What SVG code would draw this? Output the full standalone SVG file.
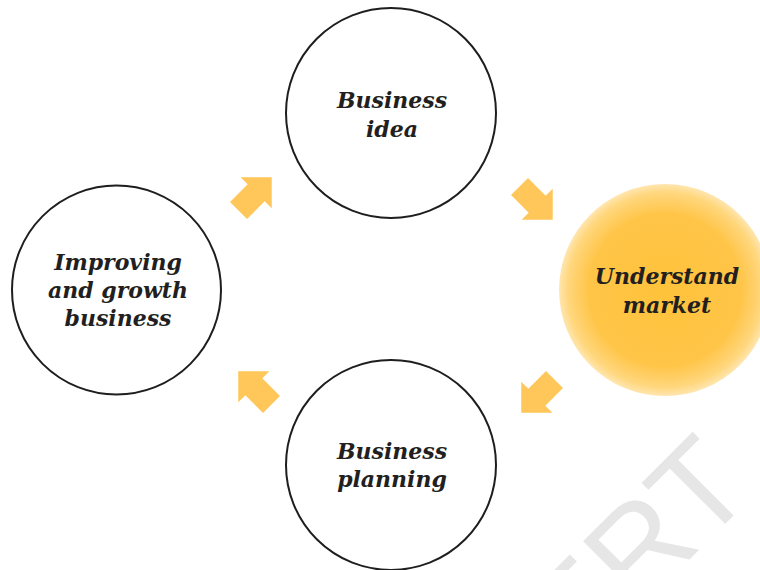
<svg xmlns="http://www.w3.org/2000/svg" width="760" height="570" viewBox="0 0 760 570">
  <defs>
    <radialGradient id="gold" cx="50%" cy="50%" r="50%">
      <stop offset="0" stop-color="#FFC23A"/>
      <stop offset="0.72" stop-color="#FFC548"/>
      <stop offset="0.92" stop-color="#FFD77E"/>
      <stop offset="1" stop-color="#FFE6B0"/>
    </radialGradient>
    <path id="arrow" d="M-12,-12 H13 V-22 L35,0 L13,22 V12 H-12 Z"/>
  </defs>
  <style>
    .ring { fill: #ffffff; stroke: #1e1e1e; stroke-width: 2; }
    .lbl { font-family: "DejaVu Serif", "Liberation Serif", serif; font-weight: bold; font-style: italic; font-size: 22px; fill: #231f20; text-anchor: middle; }
    .arr { fill: #FFC65A; }
    .wm { font-family: "Liberation Sans", Arial, sans-serif; font-size: 128px; fill: #E6E6E6; }
  </style>
  <rect width="760" height="570" fill="#ffffff"/>
  <text class="wm" transform="translate(757,492) rotate(-45)" text-anchor="end">NCERT</text>

  <g id="connectors">
    <use href="#arrow" class="arr" transform="translate(247,202) rotate(-45)"/>
    <use href="#arrow" class="arr" transform="translate(528,195) rotate(45)"/>
    <use href="#arrow" class="arr" transform="translate(546,388) rotate(135)"/>
    <use href="#arrow" class="arr" transform="translate(263,396) rotate(-135)"/>
  </g>

  <g id="business-idea">
    <circle class="ring" cx="391" cy="113" r="105"/>
    <text class="lbl" x="392" y="108">Business</text>
    <text class="lbl" x="392" y="137">idea</text>
  </g>

  <g id="understand-market">
    <circle cx="665" cy="290" r="106" fill="url(#gold)"/>
    <text class="lbl" x="667" y="284">Understand</text>
    <text class="lbl" x="667" y="313">market</text>
  </g>

  <g id="business-planning">
    <circle class="ring" cx="391" cy="465" r="105"/>
    <text class="lbl" x="392" y="459">Business</text>
    <text class="lbl" x="392" y="487">planning</text>
  </g>

  <g id="improving-growth">
    <circle class="ring" cx="116.5" cy="290" r="104.5"/>
    <text class="lbl" x="118" y="270">Improving</text>
    <text class="lbl" x="118" y="298">and growth</text>
    <text class="lbl" x="118" y="326">business</text>
  </g>
</svg>
